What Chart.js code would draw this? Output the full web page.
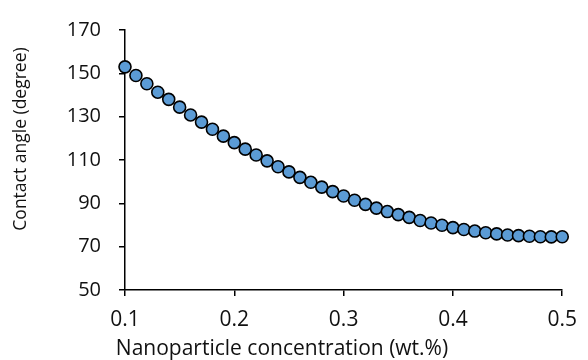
<!DOCTYPE html>
<html>
<head>
<meta charset="utf-8">
<script src="https://cdn.jsdelivr.net/npm/chart.js@4/dist/chart.umd.min.js"></script>
<style>
  html, body { margin: 0; padding: 0; background: #fff; }
  canvas { display: block; }
</style>
</head>
<body>
<canvas id="chart" width="588" height="360"></canvas>
<script>
// concentration (wt.%)
const concentration = [
  0.10, 0.11, 0.12, 0.13, 0.14, 0.15, 0.16, 0.17, 0.18, 0.19,
  0.20, 0.21, 0.22, 0.23, 0.24, 0.25, 0.26, 0.27, 0.28, 0.29,
  0.30, 0.31, 0.32, 0.33, 0.34, 0.35, 0.36, 0.37, 0.38, 0.39,
  0.40, 0.41, 0.42, 0.43, 0.44, 0.45, 0.46, 0.47, 0.48, 0.49, 0.50
];
// contact angle (degree)
const contactAngle = [
  153.0, 149.0, 145.2, 141.3, 138.0, 134.4, 130.8, 127.5, 124.2, 121.0,
  118.0, 115.0, 112.3, 109.6, 106.9, 104.5, 102.0, 99.7, 97.5, 95.4,
  93.4, 91.4, 89.5, 87.8, 86.2, 84.8, 83.5, 82.1, 80.9, 79.9,
  78.8, 77.9, 77.2, 76.4, 75.9, 75.4, 75.1, 74.8, 74.6, 74.5, 74.6
];
const xTitle = 'Nanoparticle concentration (wt.%)';
const yTitle = 'Contact angle (degree)';

const textColor = '#111';
const fontFamily = "'Open Sans', 'Liberation Sans', sans-serif";

// axis titles placed like the original (not centred on the plot area)
const axisTitles = {
  id: 'axisTitles',
  afterDraw(chart) {
    const ctx = chart.ctx;
    ctx.save();
    ctx.fillStyle = textColor;
    ctx.textAlign = 'center';
    ctx.textBaseline = 'middle';
    ctx.font = '21px ' + fontFamily;
    ctx.fillText(xTitle, 282, 349);
    ctx.translate(21, 139);
    ctx.rotate(-Math.PI / 2);
    ctx.font = '17.5px ' + fontFamily;
    ctx.fillText(yTitle, 0, 0);
    ctx.restore();
  }
};

const points = concentration.map((c, i) => ({ x: c, y: contactAngle[i] }));

new Chart(document.getElementById('chart'), {
  type: 'scatter',
  data: {
    datasets: [{
      data: points,
      backgroundColor: '#5B9BD5',
      borderColor: '#000',
      borderWidth: 1.6,
      pointRadius: 6,
      pointHoverRadius: 6,
      clip: false
    }]
  },
  options: {
    responsive: false,
    animation: false,
    devicePixelRatio: 1,
    layout: { padding: { top: 25, right: 18, left: 0, bottom: 0 } },
    plugins: {
      legend: { display: false },
      tooltip: { enabled: false }
    },
    scales: {
      x: {
        type: 'linear',
        min: 0.1,
        max: 0.5,
        afterFit: (s) => { s.height = 70; },
        border: { color: '#000', width: 1.5 },
        grid: { drawOnChartArea: false, color: '#000', lineWidth: 1.5, tickLength: 6 },
        ticks: {
          stepSize: 0.1,
          padding: 11,
          color: textColor,
          font: { family: fontFamily, size: 21 },
          callback: (v) => Number(v).toFixed(1)
        }
      },
      y: {
        min: 50,
        max: 170,
        afterFit: (s) => { s.width = 125; },
        border: { color: '#000', width: 1.5 },
        grid: { drawOnChartArea: false, color: '#000', lineWidth: 1.5, tickLength: 6 },
        ticks: {
          stepSize: 20,
          padding: 18,
          color: textColor,
          font: { family: fontFamily, size: 20 }
        }
      }
    }
  },
  plugins: [axisTitles]
});
</script>
</body>
</html>
